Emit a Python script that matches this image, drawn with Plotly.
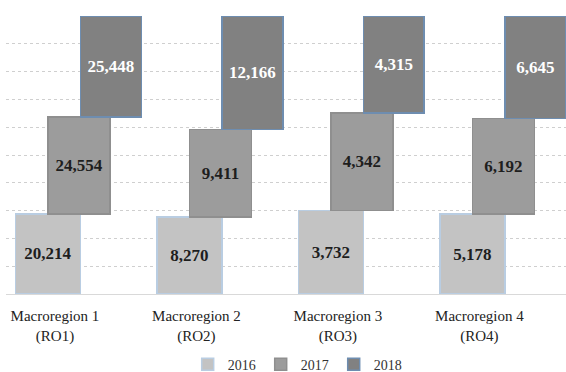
import plotly.graph_objects as go

# Macroregion totals by year (shown as a 100% stacked column per region)
categories = ["Macroregion 1<br>(RO1)", "Macroregion 2<br>(RO2)",
              "Macroregion 3<br>(RO3)", "Macroregion 4<br>(RO4)"]
years = ["2016", "2017", "2018"]
values_2016 = [20214, 8270, 3732, 5178]
values_2017 = [24554, 9411, 4342, 6192]
values_2018 = [25448, 12166, 4315, 6645]

series = [values_2016, values_2017, values_2018]
fills = ["#c3c3c3", "#9c9c9c", "#818181"]
edges = ["#b9cde2", "#8f8f8f", "#6e8db0"]
text_colors = ["#1e1e1e", "#1e1e1e", "#ffffff"]
offsets = [-0.28, -0.05, 0.18]
widths = [0.46, 0.44, 0.43]

SERIF = "Liberation Serif, Times New Roman, serif"
x_pos = list(range(len(categories)))

fig = go.Figure()
for name, vals, fc, ec, tc, off, w in zip(years, series, fills, edges,
                                          text_colors, offsets, widths):
    fig.add_trace(go.Bar(
        x=x_pos, y=vals, name=name,
        offset=off, width=w,
        marker=dict(color=fc, line=dict(color=ec, width=1.5)),
        text=[f"{v:,}" for v in vals],
        textposition="inside", insidetextanchor="middle",
        textfont=dict(family=SERIF, size=17, color=tc, weight="bold"),
        hoverinfo="skip",
    ))

fig.update_layout(
    width=566, height=372,
    margin=dict(l=6, r=0, t=16, b=78, autoexpand=False),
    paper_bgcolor="white", plot_bgcolor="white",
    barmode="stack", barnorm="percent",
    font=dict(family=SERIF, color="#222222"),
    xaxis=dict(
        range=[-0.346, 3.612],
        tickmode="array", tickvals=x_pos, ticktext=categories,
        tickfont=dict(family=SERIF, size=15, color="#222222"),
        showgrid=False, zeroline=False,
        showline=True, linecolor="#d9d9d9", linewidth=1,
        ticks="", ticklabelstandoff=8,
    ),
    yaxis=dict(
        range=[0, 100], dtick=10,
        showticklabels=False,
        showgrid=True, gridcolor="#cfcfcf", griddash="dot", gridwidth=1,
        zeroline=False,
    ),
    legend=dict(
        orientation="h", x=0.52, xanchor="center",
        yref="container", y=0.02, yanchor="middle",
        font=dict(family=SERIF, size=14, color="#333333"),
        itemwidth=30, traceorder="normal",
    ),
    showlegend=True,
)

fig.write_html("out.html")
